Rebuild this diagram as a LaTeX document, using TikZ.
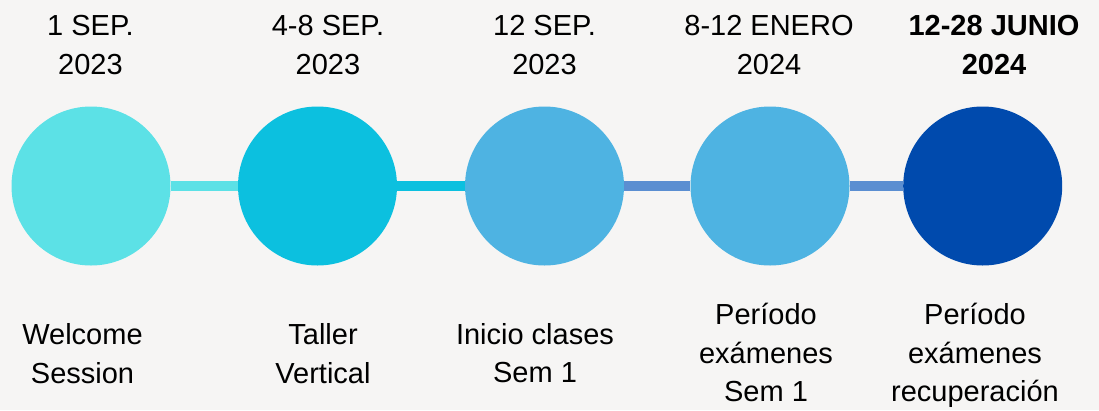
\documentclass[tikz,border=0pt]{standalone}
\usepackage{fontspec}
\setmainfont{Liberation Sans}
\definecolor{bgc}{HTML}{F6F5F4}
\definecolor{cA}{HTML}{5CE1E6}
\definecolor{cB}{HTML}{0CC0DF}
\definecolor{cC}{HTML}{4EB3E2}
\definecolor{cD}{HTML}{004AAD}
\definecolor{cL}{HTML}{5B8ED1}
\begin{document}
\begin{tikzpicture}[x=1pt,y=-1pt,
  dot/.style={circle,inner sep=0pt,minimum size=159pt},
  lbl/.style={anchor=base,align=center,inner sep=0pt,text=black,
    font=\fontsize{29}{38.5}\selectfont},
  link/.style={line width=10.5pt}]
\useasboundingbox[fill=bgc] (0,0) rectangle (1099,410);
% circles
\node[dot,fill=cA] (n1) at (91,186) {};
\node[dot,fill=cB] (n2) at (317.5,186) {};
\node[dot,fill=cC] (n3) at (544.5,186) {};
\node[dot,fill=cC] (n4) at (770,186) {};
\node[dot,fill=cD] (n5) at (982.7,186) {};
% connectors
\draw[link,cA] (n1) -- (n2);
\draw[link,cB] (n2) -- (n3);
\draw[link,cL] (n3) -- (n4);
\draw[link,cL] (n4) -- (n5);
% dates
\node[lbl] (d1) at (90.5,74) {1 SEP.\\2023};
\node[lbl] (d2) at (328,74) {4-8 SEP.\\2023};
\node[lbl] (d3) at (544.5,74) {12 SEP.\\2023};
\node[lbl] (d4) at (769,74) {8-12 ENERO\\2024};
\node[lbl,font=\fontsize{29}{38.5}\selectfont\bfseries] (d5) at (994,74) {12-28 JUNIO\\2024};
% descriptions
\node[lbl] (t1) at (82.5,383) {Welcome\\Session};
\node[lbl] (t2) at (323,383) {Taller\\Vertical};
\node[lbl] (t3) at (535,382.7) {Inicio clases\\Sem 1};
\node[lbl] (t4) at (766,401.7) {Período\\exámenes\\Sem 1};
\node[lbl] (t5) at (975,401.7) {Período\\exámenes\\recuperación};
\end{tikzpicture}
\end{document}
